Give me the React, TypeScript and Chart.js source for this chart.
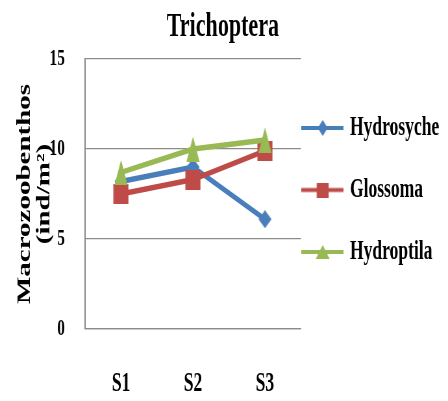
import React, { useEffect, useRef } from 'react';
import { Chart, registerables } from 'chart.js';

Chart.register(...registerables);

// ---- data ----
const categories = ['S1', 'S2', 'S3'];
const seriesNames = ['Hydrosyche', 'Glossoma', 'Hydroptila'];
const hydrosyche = [8.2, 9.0, 6.1];
const glossoma = [7.5, 8.3, 9.9];
const hydroptila = [8.7, 10.0, 10.5];
const yTickValues = [0, 5, 10, 15];

const chartTitle = 'Trichoptera';
const yAxisTitle = ['Macrozoobenthos', '(ind/m²)'];

// ---- look ----
const BLUE = '#4A7EBB';
const RED = '#BE4B48';
const GREEN = '#98B954';
const GRID = '#8c8c8c';
const FONT = '"Liberation Serif", "Times New Roman", serif';

// The chart is laid out on a wider canvas and shown squeezed to the page
// width, which gives the tall, narrow lettering of the figure.
const VIEW_W = 448;
const VIEW_H = 401;
const DRAW_W = 690;
const SX = VIEW_W / DRAW_W;
const wide = (px: number) => px / SX; // on-screen width -> canvas width

type Shape = 'diamond' | 'square' | 'triangle';

function tracePath(ctx: CanvasRenderingContext2D, shape: Shape, cx: number, cy: number, w: number, h: number) {
  ctx.beginPath();
  if (shape === 'diamond') {
    ctx.moveTo(cx, cy - h / 2);
    ctx.lineTo(cx + w / 2, cy);
    ctx.lineTo(cx, cy + h / 2);
    ctx.lineTo(cx - w / 2, cy);
  } else if (shape === 'square') {
    ctx.rect(cx - w / 2, cy - h / 2, w, h);
  } else {
    ctx.moveTo(cx, cy - h / 2);
    ctx.lineTo(cx + w / 2, cy + h / 2);
    ctx.lineTo(cx - w / 2, cy + h / 2);
  }
  ctx.closePath();
}

function markerImage(shape: Shape, color: string, w: number, h: number) {
  const c = document.createElement('canvas');
  c.width = Math.ceil(w);
  c.height = Math.ceil(h);
  const ctx = c.getContext('2d')!;
  ctx.fillStyle = color;
  tracePath(ctx, shape, c.width / 2, c.height / 2, w, h);
  ctx.fill();
  return c;
}

function legendImage(shape: Shape, color: string, lineW: number, mw: number, mh: number, thick: number) {
  const c = document.createElement('canvas');
  c.width = Math.ceil(lineW);
  c.height = Math.ceil(Math.max(mh, thick));
  const ctx = c.getContext('2d')!;
  ctx.fillStyle = color;
  ctx.fillRect(0, c.height / 2 - thick / 2, c.width, thick);
  tracePath(ctx, shape, c.width / 2, c.height / 2, mw, mh);
  ctx.fill();
  return c;
}

export default function App() {
  const canvasRef = useRef<HTMLCanvasElement | null>(null);

  useEffect(() => {
    const canvas = canvasRef.current;
    if (!canvas) return;

    const colors = [BLUE, RED, GREEN];
    const shapes: Shape[] = ['diamond', 'square', 'triangle'];
    const markerSize = [
      [wide(13), 18],
      [wide(15), 20],
      [wide(13), 25],
    ];
    const legendMarkSize = [
      [wide(10), 16],
      [wide(12), 15],
      [wide(14), 14],
    ];
    const markers = shapes.map((s, i) => markerImage(s, colors[i], markerSize[i][0], markerSize[i][1]));
    const legendMarks = shapes.map((s, i) =>
      legendImage(s, colors[i], wide(42), legendMarkSize[i][0], legendMarkSize[i][1], 4)
    );

    const series = [hydrosyche, glossoma, hydroptila];
    const drawOrder = [2, 1, 0];

    const chart = new Chart(canvas, {
      type: 'line',
      data: {
        labels: categories,
        datasets: series.map((values, i) => ({
          label: seriesNames[i],
          data: values,
          borderColor: colors[i],
          backgroundColor: colors[i],
          borderWidth: 5.5,
          pointStyle: markers[i],
          pointRadius: 6,
          tension: 0,
          fill: false,
          order: drawOrder[i],
        })),
      },
      options: {
        responsive: false,
        maintainAspectRatio: false,
        animation: false,
        devicePixelRatio: 1,
        font: { family: FONT, weight: 'bold' },
        color: '#000',
        layout: { padding: { top: 9, right: 3.5, bottom: 0, left: 0 } },
        plugins: {
          title: {
            display: true,
            text: chartTitle,
            color: '#000',
            font: { family: FONT, size: 34, weight: 'bold', lineHeight: 1 },
            padding: { top: 1.7, bottom: 14.3 },
          },
          legend: {
            position: 'right',
            align: 'center',
            maxWidth: 260,
            labels: {
              usePointStyle: true,
              pointStyleWidth: 57,
              padding: 5,
              color: '#000',
              font: { family: FONT, size: 27, weight: 'bold', lineHeight: 57 / 27 },
              generateLabels: (ch: any) =>
                ch.data.datasets.map((ds: any, i: number) => ({
                  text: [ds.label],
                  pointStyle: legendMarks[i],
                  fillStyle: colors[i],
                  strokeStyle: colors[i],
                  lineWidth: 0,
                  hidden: !ch.isDatasetVisible(i),
                  datasetIndex: i,
                  fontColor: '#000',
                })),
            },
          },
          tooltip: { enabled: false },
        },
        scales: {
          x: {
            offset: true,
            grid: { display: false, drawTicks: false, tickLength: 0 },
            border: { display: true, color: GRID, width: 1.3 },
            ticks: {
              padding: 39,
              color: '#000',
              font: { family: FONT, size: 27, weight: 'bold' },
            },
            afterFit: (s: any) => {
              s.height = 72;
            },
          },
          y: {
            min: 0,
            max: 15,
            afterBuildTicks: (s: any) => {
              s.ticks = yTickValues.map((v) => ({ value: v }));
            },
            grid: { color: GRID, lineWidth: 1.3, drawTicks: false, tickLength: 0 },
            border: { display: true, color: GRID, width: 2 },
            ticks: {
              padding: 31,
              color: '#000',
              font: { family: FONT, size: 24, weight: 'bold' },
            },
            title: {
              display: true,
              text: yAxisTitle,
              color: '#000',
              padding: { top: 23, bottom: 0 },
              font: { family: FONT, size: 29, weight: 'bold', lineHeight: 1.05 },
            },
            afterFit: (s: any) => {
              s.width = 131;
            },
          },
        },
      } as any,
    });

    return () => chart.destroy();
  }, []);

  return (
    <div style={{ position: 'absolute', left: 0, top: 0, width: VIEW_W, height: VIEW_H, background: '#fff' }}>
      <canvas
        ref={canvasRef}
        width={DRAW_W}
        height={VIEW_H}
        style={{ display: 'block', width: VIEW_W, height: VIEW_H }}
      />
    </div>
  );
}
